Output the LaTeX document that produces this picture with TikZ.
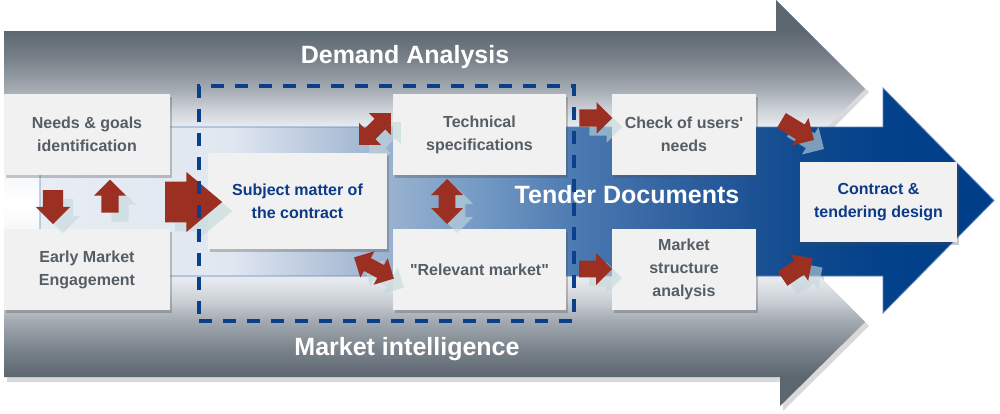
\documentclass[tikz,border=0pt]{standalone}
\usepackage{fontspec}
\setmainfont{Liberation Sans}[Ligatures=TeXOff]
\usetikzlibrary{shapes.arrows,shadows}

\definecolor{graydark}{HTML}{5C666F}
\definecolor{grayA}{HTML}{7A838B}
\definecolor{grayB}{HTML}{A4ABB2}
\definecolor{grayC}{HTML}{CDD2D8}
\definecolor{grayD}{HTML}{E6E9ED}
\definecolor{redarr}{HTML}{9A2F22}
\definecolor{shadowarr}{HTML}{C3D8DC}
\definecolor{boxfill}{HTML}{F1F1F1}
\definecolor{boxtext}{HTML}{555D65}
\definecolor{bluetext}{HTML}{0B3A87}
\definecolor{dashblue}{HTML}{0B3F8C}
\definecolor{bA}{HTML}{E8EDF4}
\definecolor{bB}{HTML}{E0E7F0}
\definecolor{bC}{HTML}{A9BCD5}
\definecolor{bD}{HTML}{7399C4}
\definecolor{bE}{HTML}{4B78B0}
\definecolor{bF}{HTML}{2A5C9C}
\definecolor{bG}{HTML}{104A8E}
\definecolor{bH}{HTML}{03418A}
\definecolor{bI}{HTML}{003F88}
\definecolor{bandline}{HTML}{5B86C6}

\pgfdeclareverticalshading{grayarrow}{100bp}{color(0bp)=(graydark); color(28.6bp)=(graydark); color(32bp)=(grayA); color(35.6bp)=(grayB); color(38.1bp)=(grayC); color(40.6bp)=(grayD); color(50bp)=(white); color(59.6bp)=(grayD); color(61.5bp)=(grayC); color(64bp)=(grayB); color(67.6bp)=(grayA); color(71.3bp)=(graydark); color(100bp)=(graydark)}
\pgfdeclarehorizontalshading{tender}{100bp}{color(0bp)=(bA); color(25bp)=(bA); color(35bp)=(bB); color(41.3bp)=(bC); color(48.1bp)=(bD); color(53.3bp)=(bE); color(59.6bp)=(bF); color(64.9bp)=(bG); color(69.1bp)=(bH); color(75bp)=(bI); color(100bp)=(bI)}

\newcommand\sarrow[8]{% name, x, y, angle, length, head width, half shaft, tip angle
  \node[arrshadow, single arrow, single arrow tip angle=#8, rotate=#4, minimum height=#5pt, minimum width=#6pt, inner ysep=#7pt] at (#2+10,#3+9) {};
  \node[redarrow, single arrow, single arrow tip angle=#8, rotate=#4, minimum height=#5pt, minimum width=#6pt, inner ysep=#7pt] (#1) at (#2,#3) {};}
\newcommand\darrow[7]{% name, x, y, angle, length, head width, half shaft
  \node[arrshadow, double arrow, double arrow tip angle=90, rotate=#4, minimum height=#5pt, minimum width=#6pt, inner ysep=#7pt] at (#2+10,#3+9) {};
  \node[redarrow, double arrow, double arrow tip angle=90, rotate=#4, minimum height=#5pt, minimum width=#6pt, inner ysep=#7pt] (#1) at (#2,#3) {};}

\begin{document}
\begin{tikzpicture}[x=1pt,y=-1pt,
  box/.style={fill=boxfill, inner sep=0pt, align=center, text=boxtext,
    font=\fontsize{16}{23}\selectfont\bfseries,
    drop shadow={shadow xshift=1.5pt, shadow yshift=-2.5pt, opacity=0.3, fill=black!70}},
  bluebox/.style={box, text=bluetext},
  title/.style={anchor=base, text=white, inner sep=0pt, font=\fontsize{25}{30}\selectfont\bfseries},
  redarrow/.style={fill=redarr, draw=none, inner xsep=0pt, text height=0pt, text depth=0pt},
  arrshadow/.style={fill=shadowarr, draw=none, inner xsep=0pt, text height=0pt, text depth=0pt, opacity=0.6},
  dashbox/.style={draw=dashblue, line width=3.5pt, dash pattern=on 13pt off 11pt, inner sep=0pt}]
\useasboundingbox (0,0) rectangle (1000,413);

% gray double arrow background
\fill[black, opacity=0.15] (7,34) -- (779,34) -- (779,3) -- (869,92) -- (830,131) -- (824,281) -- (869,326) -- (783,411) -- (783,382) -- (7,382) -- cycle;
\shade[shading=grayarrow] (4,31) -- (776,31) -- (776,0) -- (865,89) -- (827,127) -- (820,277) -- (865,322) -- (780,406) -- (780,377) -- (4,377) -- cycle;

% blue tender band arrow
\shade[shading=tender, draw=bandline, line width=0.8pt] (40,127) -- (883,127) -- (883,88) -- (994,200.5) -- (883,313) -- (883,276) -- (40,276) -- cycle;

% titles
\node[title] (demand) at (405,63) {Demand Analysis};
\node[title] (market) at (407,355) {Market intelligence};
\node[title] (tender) at (627,203) {Tender Documents};

% boxes
\node[box, minimum width=166pt, minimum height=81pt] (needs) at (87,134.5) {Needs \& goals\\identification};
\node[box, minimum width=166pt, minimum height=81pt] (early) at (87,269.5) {Early Market\\Engagement};
\node[bluebox, minimum width=179pt, minimum height=96pt] (subject) at (297.5,201) {Subject matter of\\the contract};
\node[box, minimum width=173pt, minimum height=81pt] (tech) at (479.5,134.5) {Technical\\specifications};
\node[box, minimum width=173pt, minimum height=81pt] (relevant) at (479.5,269.5) {"Relevant market"};
\node[box, minimum width=144pt, minimum height=81pt] (check) at (684,134.5) {Check of users'\\needs};
\node[box, minimum width=144pt, minimum height=81pt] (mstruct) at (684,269.5) {Market\\structure\\analysis};
\node[bluebox, minimum width=157pt, minimum height=80pt] (contract) at (878.5,202) {Contract \&\\tendering design};

% red block arrows
\sarrow{a1}{53}{202}{-90}{34}{32}{10}{90}
\sarrow{a2}{110}{200.5}{90}{33}{32}{8}{90}
\sarrow{a3}{181.5}{202}{0}{57}{60}{15}{80}
\darrow{a4}{375}{129}{45}{45}{31}{6.5}
\darrow{a5}{447}{201.5}{90}{45}{32}{7.5}
\darrow{a6}{374}{268}{-28}{45}{30}{6.5}
\sarrow{a7}{591.5}{118}{0}{33}{30}{8.5}{90}
\sarrow{a8}{591.5}{269}{0}{33}{32}{7.5}{90}
\sarrow{a9}{794}{128}{-31}{38}{32}{8}{90}
\sarrow{a10}{794}{271}{34}{36}{32}{8}{90}

% dashed scope box
\node[dashbox, minimum width=375pt, minimum height=235pt] (scope) at (386.5,203.5) {};
\end{tikzpicture}
\end{document}
